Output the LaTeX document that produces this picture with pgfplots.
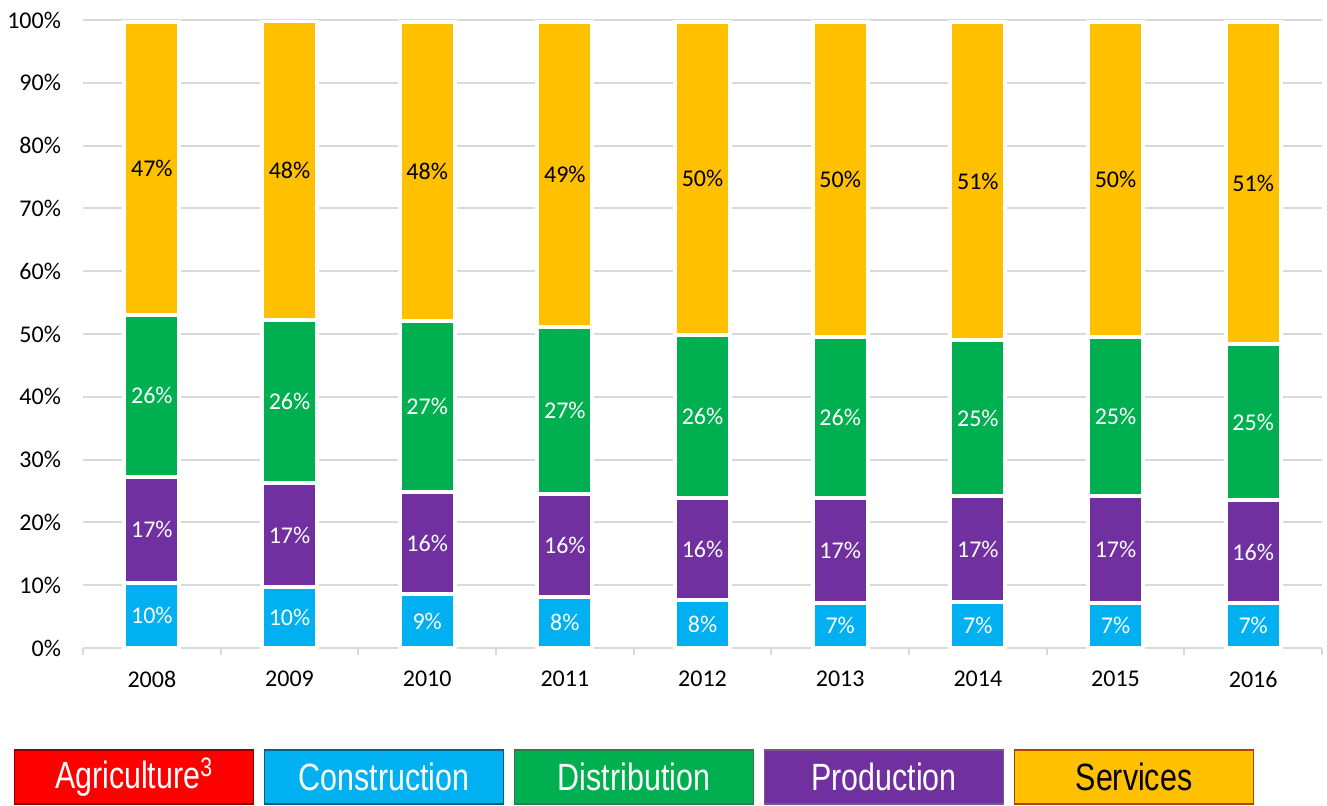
\documentclass[border=0pt]{standalone}
\usepackage{fontspec}
\setmainfont{Carlito}
\newfontfamily\arial{Liberation Sans}
\usepackage{pgfplots}
\usepackage{pgfplotstable}
\pgfplotsset{compat=1.18}

\definecolor{agri}{HTML}{FF0000}
\definecolor{cons}{HTML}{00B0F0}
\definecolor{dist}{HTML}{00B050}
\definecolor{prod}{HTML}{7030A0}
\definecolor{serv}{HTML}{FFC000}
\definecolor{gridgray}{HTML}{D9D9D9}

% shares in percent, 2008-2016
\pgfplotstableread{
x year con pro dis ser
0 2008 10.4 16.9 25.8 46.6
1 2009 9.7 16.6 25.9 47.6
2 2010 8.6 16.2 27.2 47.7
3 2011 8.1 16.4 26.6 48.6
4 2012 7.6 16.3 25.9 49.9
5 2013 7.2 16.7 25.6 50.2
6 2014 7.3 16.9 24.8 50.7
7 2015 7.2 17.0 25.3 50.2
8 2016 7.1 16.4 24.9 51.3
}\shares

\pgfplotsset{
  base/.style={
    scale only axis, width=619.5pt, height=314pt,
    xmin=-0.5, xmax=8.5, ymin=0, ymax=100,
    at={(0,0)}, anchor=south west,
  },
  lbl/.style={
    draw=none, mark=none, point meta=explicit,
    nodes near coords={\pgfmathprintnumber[fixed,precision=0,assume math mode=true]{\pgfplotspointmeta}\%},
    nodes near coords align={center},
    every node near coord/.append style={font=\fontsize{12}{14}\selectfont, text=#1, inner sep=0pt},
  },
}

\begin{document}
\begin{tikzpicture}
\useasboundingbox (-41.5pt,-78.5pt) rectangle (622pt,324pt);
\begin{axis}[base,
  ybar stacked, bar width=27.5pt,
  separate axis lines,
  axis x line*=bottom, axis y line*=left,
  x axis line style={gridgray, line width=1pt},
  y axis line style={draw=none},
  ymajorgrids, grid style={gridgray, line width=1pt},
  xtick=data, xticklabels={2008,2009,2010,2011,2012,2013,2014,2015,2016},
  minor xtick={-0.5,0.5,...,8.5},
  ytick={0,10,...,100},
  yticklabel={\pgfmathprintnumber{\tick}\%},
  /pgf/number format/assume math mode=true,
  major tick length=0pt, minor tick length=3.5pt,
  tick align=outside,
  minor x tick style={gridgray, line width=1pt},
  ytick style={draw=none},
  tick label style={font=\fontsize{12}{14}\selectfont, text=black},
  yticklabel style={xshift=-7.5pt},
  xticklabel style={yshift=-8pt},
]
\addplot[fill=cons, draw=white, line width=2pt] table[x=x, y=con] {\shares};
\addplot[fill=prod, draw=white, line width=2pt] table[x=x, y=pro] {\shares};
\addplot[fill=dist, draw=white, line width=2pt] table[x=x, y=dis] {\shares};
\addplot[fill=serv, draw=white, line width=2pt] table[x=x, y=ser] {\shares};
\end{axis}
\begin{axis}[base, hide axis]
\addplot[lbl=white] table[x=x, y expr=\thisrow{con}/2, meta=con] {\shares};
\addplot[lbl=white] table[x=x, y expr=\thisrow{con}+\thisrow{pro}/2, meta=pro] {\shares};
\addplot[lbl=white] table[x=x, y expr=\thisrow{con}+\thisrow{pro}+\thisrow{dis}/2, meta=dis] {\shares};
\addplot[lbl=black] table[x=x, y expr=\thisrow{con}+\thisrow{pro}+\thisrow{dis}+\thisrow{ser}/2, meta=ser] {\shares};
\end{axis}
% legend boxes
\tikzset{lg/.style={minimum width=119.5pt, minimum height=27pt, inner sep=0pt, line width=0.7pt,
  font=\arial\fontsize{19}{23}\selectfont}}
\node[lg, fill=agri, draw=agri!55!black, text=white] at (25.5pt,-64.5pt) {\scalebox{0.8}[1]{Agriculture\textsuperscript{3}}};
\node[lg, fill=cons, draw=cons!55!black, text=white] at (150.5pt,-64.5pt) {\scalebox{0.8}[1]{Construction}};
\node[lg, fill=dist, draw=dist!50!gray!80!black, text=white] at (275.5pt,-64.5pt) {\scalebox{0.8}[1]{Distribution}};
\node[lg, fill=prod, draw=prod!50!gray, text=white] at (400.5pt,-64.5pt) {\scalebox{0.8}[1]{Production}};
\node[lg, fill=serv, draw=serv!50!red!70!black, text=black] at (525.5pt,-64.5pt) {\scalebox{0.8}[1]{Services}};
\end{tikzpicture}
\end{document}
